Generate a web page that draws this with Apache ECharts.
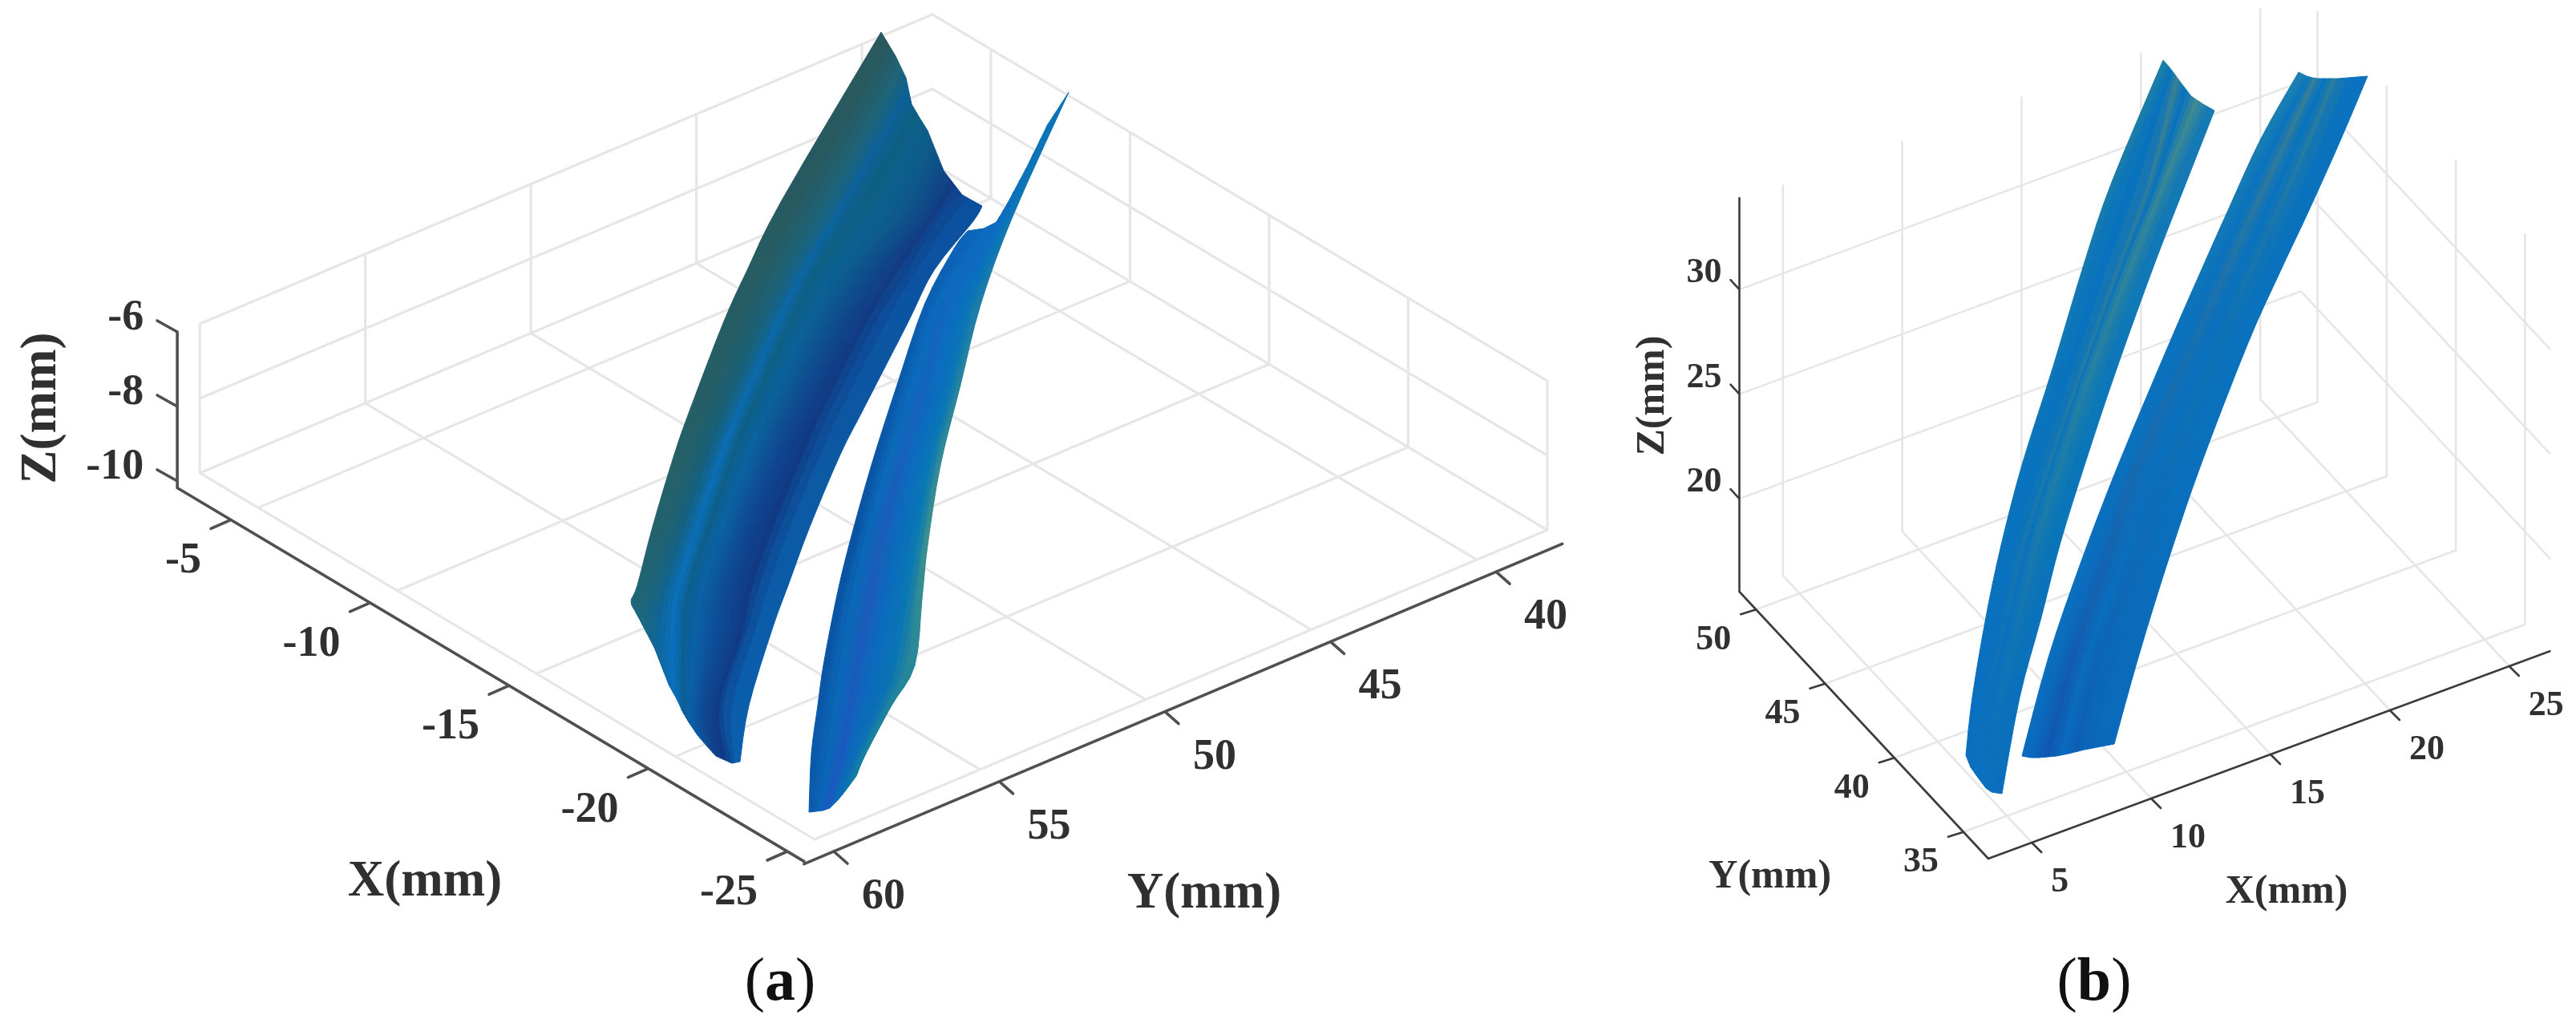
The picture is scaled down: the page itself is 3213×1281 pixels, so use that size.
<!DOCTYPE html>
<html>
<head>
<meta charset="utf-8">
<title>Blade surfaces</title>
<script src="https://cdn.jsdelivr.net/npm/echarts@6/dist/echarts.min.js"></script>
<style>
html, body { margin: 0; padding: 0; background: #fff; }
#main { width: 3213px; height: 1281px; }
</style>
</head>
<body>
<div id="main"></div>
<script>
// tick labels, mm
const xTicksA = [-5, -10, -15, -20, -25]
const yTicksA = [60, 55, 50, 45, 40]
const zTicksA = [-6, -8, -10]
const xTicksB = [5, 10, 15, 20, 25]
const yTicksB = [35, 40, 45, 50]
const zTicksB = [20, 25, 30]

// blade rails, [across, up] on the view plane of each panel
const bladeA1Rail0 = [[83,1007],[-41,797],[-84,710],[-114,644],[-155,537],[-175,480],[-202,390],[-221,317],[-229,297],[-223,284],[-223,284]]
const bladeA1Rail1 = [[101,977],[-1,797],[-49,710],[-80,644],[-124,537],[-146,480],[-174,390],[-195,317],[-204,277],[-201,244],[-196,234]]
const bladeA1Rail2 = [[114,950],[31,797],[-21,710],[-54,644],[-101,537],[-124,480],[-154,390],[-177,317],[-184,272],[-184,200],[-171,187]]
const bladeA1Rail3 = [[121,917],[47,797],[-5,710],[-38,644],[-85,537],[-108,480],[-138,390],[-161,317],[-168,269],[-168,177],[-163,157]]
const bladeA1Rail4 = [[131,900],[74,792],[13,710],[-22,644],[-70,537],[-94,480],[-125,390],[-149,317],[-156,267],[-160,165],[-154,142]]
const bladeA1Rail5 = [[141,884],[99,789],[39,710],[3,644],[-47,537],[-71,480],[-104,390],[-129,317],[-138,262],[-150,165],[-146,130]]
const bladeA1Rail6 = [[151,859],[119,787],[59,710],[21,644],[-30,537],[-54,480],[-89,390],[-113,317],[-121,257],[-141,165],[-134,116]]
const bladeA1Rail7 = [[161,834],[139,782],[84,710],[45,644],[-7,537],[-32,480],[-68,390],[-93,317],[-101,252],[-128,165],[-123,104]]
const bladeA1Rail8 = [[184,804],[159,779],[117,710],[76,644],[21,537],[-4,480],[-42,390],[-68,317],[-85,257],[-113,167],[-103,95]]
const bladeA1Rail9 = [[209,790],[197,770],[149,710],[116,644],[61,537],[32,480],[-6,390],[-33,317],[-53,262],[-82,167],[-93,97]]

const bladeA2Rail0 = [[191,759],[174,737],[137,667],[103,567],[71,467],[43,367],[27,300],[11,217],[4,167],[-4,107],[-7,34]]
const bladeA2Rail1 = [[211,762],[191,735],[147,667],[114,567],[83,467],[55,367],[39,300],[24,217],[17,167],[9,107],[2,35]]
const bladeA2Rail2 = [[227,770],[206,739],[161,667],[132,567],[101,467],[73,367],[61,300],[47,217],[39,167],[29,107],[10,36]]
const bladeA2Rail3 = [[241,794],[219,747],[171,667],[144,567],[115,467],[92,367],[80,300],[62,217],[52,167],[40,107],[19,39]]
const bladeA2Rail4 = [[264,837],[229,757],[189,667],[164,567],[137,467],[118,367],[105,300],[89,217],[74,167],[49,107],[29,49]]
const bladeA2Rail5 = [[291,892],[239,764],[199,667],[176,567],[150,467],[134,367],[123,300],[109,217],[87,167],[57,107],[38,60]]
const bladeA2Rail6 = [[317,932],[247,777],[207,667],[182,567],[157,467],[141,367],[134,300],[125,217],[96,167],[64,107],[52,79]]

const bladeB1Rail0 = [[218,996],[154,844],[120,744],[80,611],[42,491],[16,391],[-3,301],[-20,201],[-28,129]]
const bladeB1Rail1 = [[225,988],[163,844],[129,744],[88,611],[49,491],[23,391],[4,301],[-14,201],[-22,114]]
const bladeB1Rail2 = [[232,979],[199,844],[162,744],[114,611],[73,491],[41,391],[20,301],[-2,201],[-15,104]]
const bladeB1Rail3 = [[240,968],[205,844],[168,744],[120,611],[79,491],[47,391],[25,301],[2,201],[-9,96]]
const bladeB1Rail4 = [[253,951],[214,844],[173,744],[123,611],[83,491],[53,391],[33,301],[10,201],[-3,88]]
const bladeB1Rail5 = [[268,941],[226,844],[187,744],[137,611],[97,491],[67,391],[45,301],[22,201],[4,83]]
const bladeB1Rail6 = [[282,933],[247,844],[208,744],[160,611],[120,491],[89,391],[66,301],[39,201],[17,81]]

const bladeB2Rail0 = [[387,981],[340,898],[300,811],[263,728],[225,641],[162,491],[116,371],[75,251],[42,128]]
const bladeB2Rail1 = [[397,976],[352,898],[312,811],[275,728],[237,641],[177,491],[126,371],[84,251],[53,126]]
const bladeB2Rail2 = [[404,974],[368,898],[328,811],[290,728],[251,641],[180,491],[140,371],[98,251],[63,126]]
const bladeB2Rail3 = [[412,973],[378,898],[338,811],[300,728],[261,641],[194,491],[156,371],[116,251],[85,128]]
const bladeB2Rail4 = [[428,973],[397,898],[359,811],[321,728],[284,641],[222,491],[180,371],[130,251],[100,131]]
const bladeB2Rail5 = [[436,973],[405,898],[367,811],[329,728],[292,641],[232,491],[192,371],[145,251],[120,136]]
const bladeB2Rail6 = [[473,976],[440,898],[401,811],[362,728],[323,641],[265,491],[224,371],[187,251],[157,143]]

// strip colours top -> middle -> bottom
const rampsA1 = [
  ['#27595f', '#256068', '#186a85'],
  ['#1f6477', '#165f7a', '#0b6aa8'],
  ['#0c6098', '#0a6eb5', '#0c70c0'],
  ['#0d5f82', '#0e5f85', '#0a5f95'],
  ['#0c5f8a', '#0a62a0', '#0a60a8'],
  ['#0e5a88', '#0e5396', '#0c52a0'],
  ['#0e4f88', '#0f4590', '#0f478f'],
  ['#123d84', '#113a85', '#103a85'],
  ['#0a4f9e', '#0c58a3', '#0a5fae']
]
const rampsA2 = [
  ['#0b66bb', '#0a52a2', '#0a5bad'],
  ['#0b6cc0', '#0b68b8', '#0b66b8'],
  ['#0b6cc0', '#1a5cba', '#1a57c0'],
  ['#0a6ec0', '#0a6dbc', '#0c68bb'],
  ['#0a72ba', '#0a7ab2', '#0b6db5'],
  ['#0a72b8', '#3a8f8e', '#0d7ba8']
]
const rampsB1 = [
  ['#1a7ea6', '#0a74bc', '#0a6ebf'],
  ['#0872bf', '#0872bf', '#0a6fbf'],
  ['#3a8092', '#1c7aa8', '#0a6fbe'],
  ['#0872bf', '#0872bd', '#0a6fbe'],
  ['#3f8a90', '#1f7ea6', '#0a70bc'],
  ['#167ab4', '#0a76b8', '#0a6ebd']
]
const rampsB2 = [
  ['#1a7fb0', '#0a72bc', '#0a6cbf'],
  ['#0a74be', '#0a70bd', '#0b66bb'],
  ['#3a7f92', '#1a70ad', '#0f57b2'],
  ['#0874bf', '#0a70bd', '#0a6bbd'],
  ['#2f7f98', '#0f72b4', '#0d5fb6'],
  ['#0a72be', '#0a72bc', '#0a69bb']
]

// oblique projection of each box onto its view plane
const viewA = (x, y, z = -10) => [(x + 25) * -34.7 + (60 - y) * 41.3, (x + 25) * 20.68 + (60 - y) * 17.44 + (z + 10) * 46.5]
const viewB = (x, y, z = 15.56) => [(x - 3.18) * 29.78 + (y - 33.2) * -17.25, (x - 3.18) * 11 + (y - 33.2) * 18.5 + (z - 15.56) * 26.1]

const fontFamily = '"Liberation Serif", "Times New Roman", serif'

function segmentSeries(name, gridIndex, segments, color, width, z) {
  const data = []
  segments.forEach((s) => {
    data.push(s[0], s[1], ['-', '-'])
  })
  return {
    name,
    type: 'line',
    xAxisIndex: gridIndex,
    yAxisIndex: gridIndex,
    z,
    data,
    showSymbol: false,
    silent: true,
    clip: false,
    animation: false,
    lineStyle: { color, width, cap: 'round' },
  }
}

// same idea as smooth: true on a line, the rails are drawn as curves through the read points
function smoothRail(rail, steps) {
  const out = []
  for (let i = 0; i < rail.length - 1; i++) {
    const p0 = rail[Math.max(i - 1, 0)]
    const p1 = rail[i]
    const p2 = rail[i + 1]
    const p3 = rail[Math.min(i + 2, rail.length - 1)]
    for (let s = 0; s < steps; s++) {
      const t = s / steps
      out.push([0, 1].map((k) => 0.5 * (2 * p1[k] + (p2[k] - p0[k]) * t
        + (2 * p0[k] - 5 * p1[k] + 4 * p2[k] - p3[k]) * t * t
        + (3 * p1[k] - p0[k] - 3 * p2[k] + p3[k]) * t * t * t)))
    }
  }
  out.push(rail[rail.length - 1])
  return out
}

function surfaceSeries(name, gridIndex, rails, ramps) {
  const fine = rails.map((r) => smoothRail(r, 4))
  const rows = fine[0].length
  const strips = rails.length - 1
  const soft = 3
  const at = (c, j) => {
    const i = Math.min(Math.floor(c), strips - 1)
    const f = c - i
    return [0, 1].map((k) => fine[i][j][k] * (1 - f) + fine[i + 1][j][k] * f)
  }
  // colours blend across the strips so that the bands stay soft as in the picture
  const colorAt = (c, t) => {
    const s = Math.max(0, Math.min(strips - 1, c - 0.5))
    const i = Math.min(Math.floor(s), strips - 2)
    return echarts.color.lerp(s - i, [echarts.color.lerp(t, ramps[i]), echarts.color.lerp(t, ramps[i + 1])])
  }
  const cells = []
  const colors = []
  for (let n = 0; n < strips * soft; n++) {
    const c0 = n / soft
    const c1 = (n + 1) / soft
    for (let j = 0; j < rows - 1; j++) {
      cells.push([...at(c0, j), ...at(c1, j), ...at(c1, j + 1), ...at(c0, j + 1)])
      colors.push(colorAt((c0 + c1) / 2, j / (rows - 2)))
    }
  }
  return {
    name,
    type: 'custom',
    xAxisIndex: gridIndex,
    yAxisIndex: gridIndex,
    z: 3,
    silent: true,
    clip: false,
    animation: false,
    encode: { x: 0, y: 1 },
    data: cells,
    renderItem(params, api) {
      const points = [0, 2, 4, 6].map((k) => api.coord([api.value(k), api.value(k + 1)]))
      const fill = colors[params.dataIndex]
      return { type: 'polygon', shape: { points }, style: { fill, stroke: fill, lineWidth: 1 } }
    },
  }
}

function labelSeries(name, gridIndex, items) {
  return {
    name,
    type: 'custom',
    xAxisIndex: gridIndex,
    yAxisIndex: gridIndex,
    z: 6,
    silent: true,
    clip: false,
    animation: false,
    encode: { x: 0, y: 1 },
    data: items.map((d) => d.at),
    renderItem(params, api) {
      const d = items[params.dataIndex]
      const p = api.coord([api.value(0), api.value(1)])
      return {
        type: 'text',
        x: p[0] + d.dx,
        y: p[1] + d.dy,
        rotation: d.rotate || 0,
        style: {
          text: d.text,
          fill: '#303030',
          font: `bold ${d.size}px ${fontFamily}`,
          align: d.align || 'center',
          verticalAlign: 'middle',
        },
      }
    },
  }
}

// panel (a)
const xMinA = -25, xMaxA = -2.9, yNearA = 60, yFarA = 37.87, zMinA = -10, zMaxA = -6
const gridA = []
xTicksA.forEach((x) => {
  gridA.push([viewA(x, yNearA), viewA(x, yFarA)])
  gridA.push([viewA(x, yFarA, zMinA), viewA(x, yFarA, zMaxA)])
})
yTicksA.forEach((y) => {
  gridA.push([viewA(xMinA, y), viewA(xMaxA, y)])
  gridA.push([viewA(xMaxA, y, zMinA), viewA(xMaxA, y, zMaxA)])
})
zTicksA.forEach((z) => {
  gridA.push([viewA(xMaxA, yNearA, z), viewA(xMaxA, yFarA, z)])
  gridA.push([viewA(xMaxA, yFarA, z), viewA(xMinA, yFarA, z)])
})

// the axes of (a) sit a little off the box
const shift = (p, dx, dy) => [p[0] + dx, p[1] - dy]
const onXA = (x) => shift(viewA(x, yNearA), -34, 15)
const onYA = (y) => shift(viewA(xMinA, y), 24, 15)
const onZA = (z) => shift(viewA(xMaxA, yNearA, z), -28, 10)
const axesA = [
  [onXA(-25.6), onXA(-3.07)],
  [onYA(60.9), onYA(38)],
  [onZA(-10.17), onZA(zMaxA)],
]
xTicksA.forEach((x) => axesA.push([onXA(x), shift(onXA(x), -25, 11)]))
yTicksA.forEach((y) => axesA.push([onYA(y), shift(onYA(y), 17, 15)]))
zTicksA.forEach((z) => axesA.push([onZA(z), shift(onZA(z), -25, -14)]))

const labelsA = [
  ...xTicksA.map((x) => ({ at: onXA(x), dx: -37, dy: 52, text: String(x), size: 54, align: 'right' })),
  ...yTicksA.map((y) => ({ at: onYA(y), dx: 62, dy: 57, text: String(y), size: 54 })),
  ...zTicksA.map((z) => ({ at: onZA(z), dx: -42, dy: -17, text: String(z), size: 54, align: 'right' })),
  { at: onXA(-15), dx: -105, dy: 246, text: 'X(mm)', size: 63 },
  { at: onYA(50), dx: 49, dy: 228, text: 'Y(mm)', size: 63 },
  { at: onZA(-8), dx: -168, dy: 2, text: 'Z(mm)', size: 63, rotate: Math.PI / 2 },
]

// panel (b)
const xMinB = 3.18, xMaxB = 26.7, yNearB = 33.2, yFarB = 51.2, zMinB = 15.56, zMaxB = 34.2
const gridB = []
xTicksB.forEach((x) => {
  gridB.push([viewB(x, yNearB), viewB(x, yFarB)])
  gridB.push([viewB(x, yFarB, zMinB), viewB(x, yFarB, zMaxB)])
})
yTicksB.forEach((y) => {
  gridB.push([viewB(xMinB, y), viewB(xMaxB, y)])
  gridB.push([viewB(xMaxB, y, zMinB), viewB(xMaxB, y, zMaxB)])
})
zTicksB.forEach((z) => {
  gridB.push([viewB(xMinB, yFarB, z), viewB(xMaxB, yFarB, z)])
  gridB.push([viewB(xMaxB, yFarB, z), viewB(xMaxB, yNearB, z)])
})

const axesB = [
  [viewB(xMinB, yNearB), viewB(xMaxB, yNearB)],
  [viewB(xMinB, yNearB), viewB(xMinB, yFarB)],
  [viewB(xMinB, yFarB, zMinB), viewB(xMinB, yFarB, 34.37)],
]
xTicksB.forEach((x) => axesB.push([viewB(x, yNearB), shift(viewB(x, yNearB), 12, 12)]))
yTicksB.forEach((y) => axesB.push([viewB(xMinB, y), shift(viewB(xMinB, y), -19, 6)]))
zTicksB.forEach((z) => axesB.push([viewB(xMinB, yFarB, z), shift(viewB(xMinB, yFarB, z), -11, -12)]))

const labelsB = [
  ...xTicksB.map((x) => ({ at: viewB(x, yNearB), dx: 24, dy: 50, text: String(x), size: 44, align: 'left' })),
  ...yTicksB.map((y) => ({ at: viewB(xMinB, y), dx: -53, dy: 38, text: String(y), size: 44 })),
  ...zTicksB.map((z) => ({ at: viewB(xMinB, yFarB, z), dx: -22, dy: -20, text: String(z), size: 44, align: 'right' })),
  { at: viewB(15, yNearB), dx: 20, dy: 172, text: 'X(mm)', size: 50 },
  { at: viewB(xMinB, 40), dx: -155, dy: 149, text: 'Y(mm)', size: 50 },
  { at: viewB(xMinB, yFarB, 25), dx: -107, dy: 2, text: 'Z(mm)', size: 50, rotate: Math.PI / 2 },
]

const captionStyle = {
  fontFamily,
  fontSize: 76,
  fontWeight: 'normal',
  color: '#111',
  rich: {
    n: { fontFamily, fontSize: 76, fontWeight: 'normal', color: '#111' },
    b: { fontFamily, fontSize: 76, fontWeight: 'bold', color: '#111' },
  },
}

const chart = echarts.init(document.getElementById('main'), null, { renderer: 'canvas' })
chart.setOption({
  backgroundColor: '#fff',
  animation: false,
  title: [
    { text: '{n|(}{b|a}{n|)}', left: 968, top: 1184, textAlign: 'center', textStyle: captionStyle },
    { text: '{n|(}{b|b}{n|)}', left: 2607, top: 1184, textAlign: 'center', textStyle: captionStyle },
  ],
  grid: [
    { left: 0, top: 0, width: 2000, height: 1281 },
    { left: 2000, top: 0, width: 1213, height: 1281 },
  ],
  xAxis: [
    { type: 'value', gridIndex: 0, min: -1016, max: 984, show: false },
    { type: 'value', gridIndex: 1, min: -480, max: 733, show: false },
  ],
  yAxis: [
    { type: 'value', gridIndex: 0, min: -234, max: 1047, show: false },
    { type: 'value', gridIndex: 1, min: -210, max: 1071, show: false },
  ],
  series: [
    segmentSeries('grid a', 0, gridA, '#e6e6e6', 3.2, 1),
    segmentSeries('grid b', 1, gridB, '#e6e6e6', 2.6, 1),
    surfaceSeries('blade a2', 0, [bladeA2Rail0, bladeA2Rail1, bladeA2Rail2, bladeA2Rail3, bladeA2Rail4, bladeA2Rail5, bladeA2Rail6], rampsA2),
    surfaceSeries('blade a1', 0, [bladeA1Rail0, bladeA1Rail1, bladeA1Rail2, bladeA1Rail3, bladeA1Rail4, bladeA1Rail5, bladeA1Rail6, bladeA1Rail7, bladeA1Rail8, bladeA1Rail9], rampsA1),
    surfaceSeries('blade b1', 1, [bladeB1Rail0, bladeB1Rail1, bladeB1Rail2, bladeB1Rail3, bladeB1Rail4, bladeB1Rail5, bladeB1Rail6], rampsB1),
    surfaceSeries('blade b2', 1, [bladeB2Rail0, bladeB2Rail1, bladeB2Rail2, bladeB2Rail3, bladeB2Rail4, bladeB2Rail5, bladeB2Rail6], rampsB2),
    segmentSeries('axes a', 0, axesA, '#505050', 3.6, 4),
    segmentSeries('axes b', 1, axesB, '#3c3c3c', 2.6, 4),
    labelSeries('labels a', 0, labelsA),
    labelSeries('labels b', 1, labelsB),
  ],
})
</script>
</body>
</html>
